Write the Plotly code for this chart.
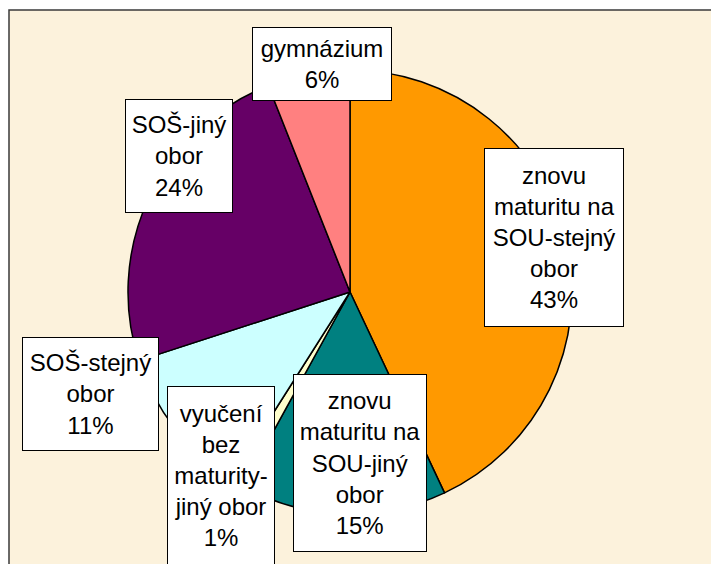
import plotly.graph_objects as go

# Data
categories = [
    "znovu maturitu na SOU-stejný obor",
    "znovu maturitu na SOU-jiný obor",
    "vyučení bez maturity-jiný obor",
    "SOŠ-stejný obor",
    "SOŠ-jiný obor",
    "gymnázium",
]
values = [43, 15, 1, 11, 24, 6]
label_texts = [
    "znovu<br>maturitu na<br>SOU-stejný<br>obor<br>43%",
    "znovu<br>maturitu na<br>SOU-jiný<br>obor<br>15%",
    "vyučení<br>bez<br>maturity-<br>jiný obor<br>1%",
    "SOŠ-stejný<br>obor<br>11%",
    "SOŠ-jiný<br>obor<br>24%",
    "gymnázium<br>6%",
]
colors = ["#FF9900", "#008080", "#FFFFCC", "#CCFFFF", "#660066", "#FF8080"]

W, H = 719, 564
OFF = 8  # page body margin offset

# label box geometry in page pixels (x0, x1, y0, y1)
boxes = [
    (484, 624, 148, 327),
    (293, 427, 374, 552),
    (167, 275, 386, 565),
    (22, 159, 337, 451),
    (125, 233, 99, 213),
    (252, 392, 27, 101),
]

cx, cy, R = 350 - OFF, 292 - OFF, 222


def px(x):
    return (x - OFF) / W


def py(y):
    return 1 - (y - OFF) / H


fig = go.Figure()
fig.add_trace(go.Pie(
    labels=categories,
    values=values,
    sort=False,
    direction="clockwise",
    rotation=0,
    marker=dict(colors=colors, line=dict(color="black", width=1.5)),
    textinfo="none",
    hoverinfo="label+percent",
    showlegend=False,
    domain=dict(x=[(cx - R) / W, (cx + R) / W], y=[1 - (cy + R) / H, 1 - (cy - R) / H]),
))

fig.add_shape(
    type="rect", xref="paper", yref="paper",
    x0=1 / W, x1=1.02, y0=-0.03, y1=1 - 2 / H,
    fillcolor="#FCF2DC", line=dict(color="#3a3a3a", width=1.5), layer="below",
)

pad, bw = 4, 1
for txt, (x0, x1, y0, y1) in zip(label_texts, boxes):
    fig.add_annotation(
        xref="paper", yref="paper",
        x=px((x0 + x1) / 2), y=py((y0 + y1) / 2),
        xanchor="center", yanchor="middle",
        text=txt, showarrow=False, align="center",
        width=(x1 - x0) - 2 * pad - 2 * bw,
        height=(y1 - y0) - 2 * pad - 2 * bw,
        bgcolor="white", bordercolor="black", borderwidth=bw, borderpad=pad,
        font=dict(family="Liberation Sans, Arial, sans-serif", size=24, color="black"),
    )

fig.update_layout(
    width=W, height=H,
    margin=dict(l=0, r=0, t=0, b=0),
    paper_bgcolor="white",
    plot_bgcolor="white",
)

fig.write_html("out.html")
